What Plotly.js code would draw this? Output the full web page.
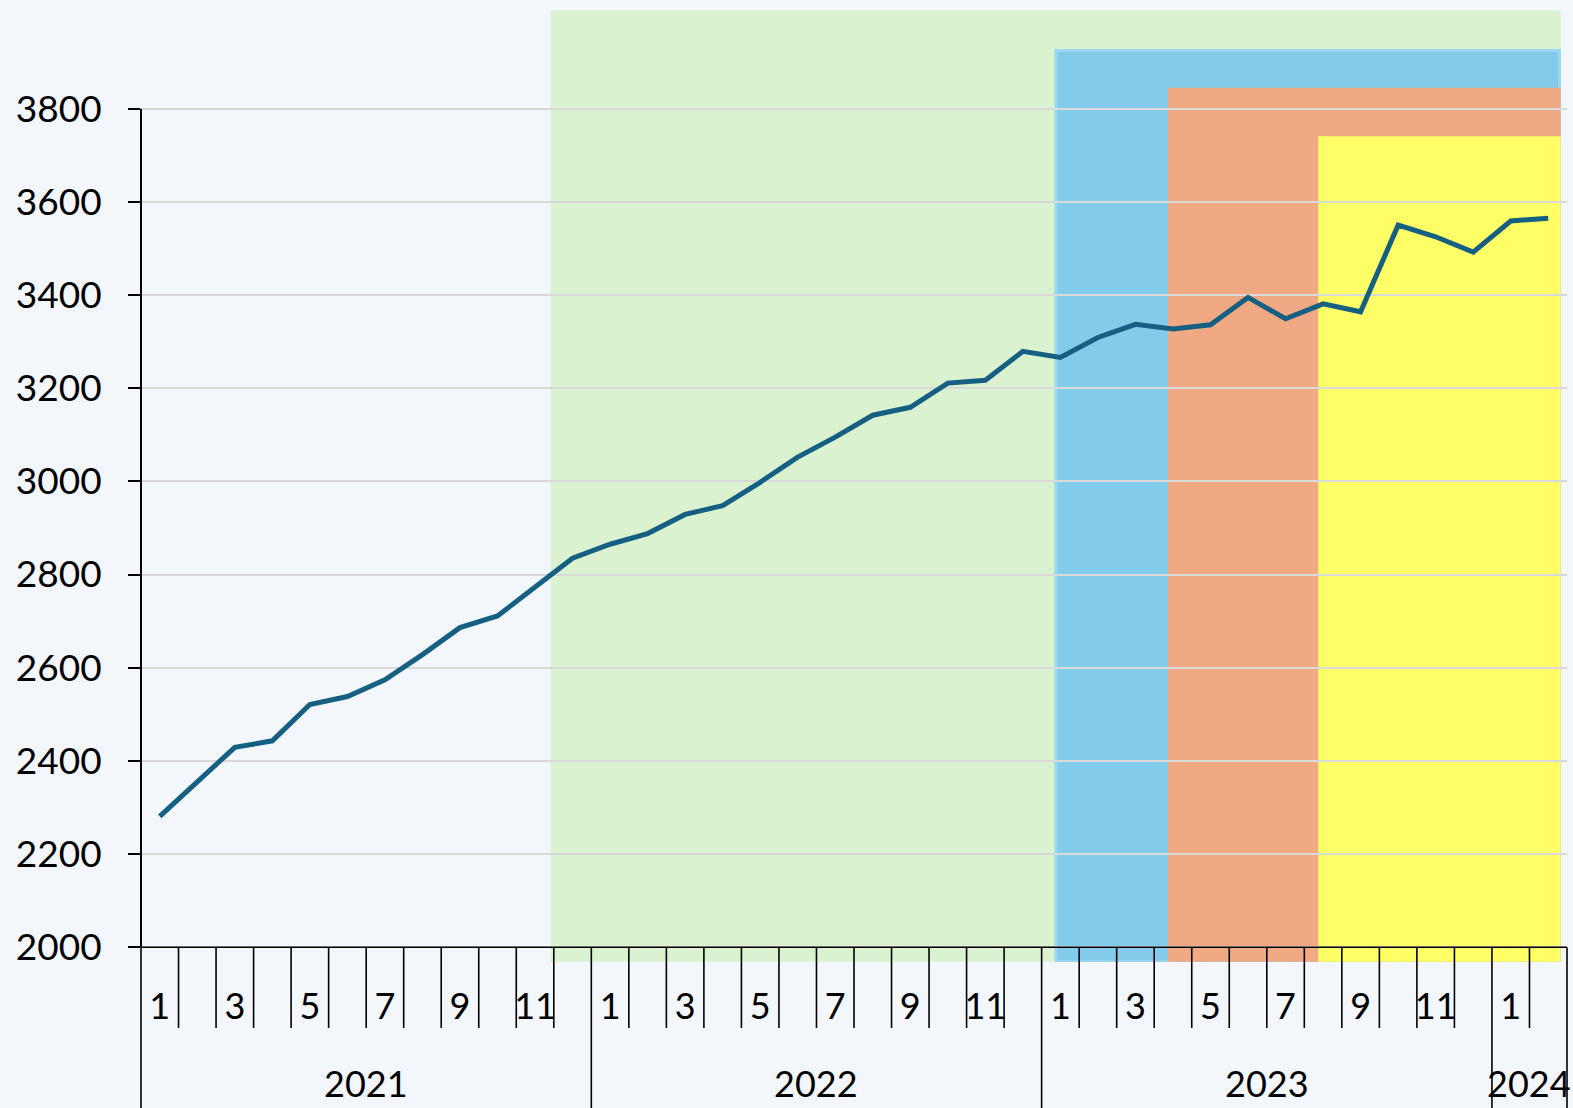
<!DOCTYPE html>
<html>
<head>
<meta charset="utf-8">
<script src="https://cdn.plot.ly/plotly-3.0.1.min.js"></script>
<style>
html,body{margin:0;padding:0;background:#F3F6FB;}
#chart{width:1573px;height:1108px;}
</style>
</head>
<body>
<div id="chart"></div>
<script>
// ---- data ----
const years  = [2021,2021,2021,2021,2021,2021,2021,2021,2021,2021,2021,2021,
                2022,2022,2022,2022,2022,2022,2022,2022,2022,2022,2022,2022,
                2023,2023,2023,2023,2023,2023,2023,2023,2023,2023,2023,2023,
                2024,2024];
const months = [1,2,3,4,5,6,7,8,9,10,11,12,
                1,2,3,4,5,6,7,8,9,10,11,12,
                1,2,3,4,5,6,7,8,9,10,11,12,
                1,2];
const values = [2281,2354,2429,2443,2521,2538,2574,2628,2686,2711,2772,2835,
                2865,2888,2929,2948,2998,3052,3095,3142,3159,3211,3217,3279,
                3266,3309,3337,3327,3336,3395,3349,3381,3364,3550,3525,3492,
                3559,3565];
const yTicks = [2000,2200,2400,2600,2800,3000,3200,3400,3600,3800];

// background periods (category-index positions and value heights)
const bandStart  = [10.42, 23.88, 26.87, 30.87];
const bandEnd    = [37.33, 37.30, 37.33, 37.33];
const bandTop    = [4011, 3925, 3845, 3741];
const bandBottom = 1969;
const bandColors = ['#DAF2D0', '#83CBEB', '#F1A983', '#FFFF66'];
const bandEdge   = ['#DAF2D0', '#9AD7F2', '#F1A983', '#FFFF66'];

// ---- derived ----
const cats = years.map((y, i) => y + '-' + months[i]);
const tickVals = cats.filter((c, i) => months[i] % 2 === 1);
const tickText = months.filter(m => m % 2 === 1).map(String);

const H = 1108, mT = 10, mB = 146;
const plotH = H - mT - mB;
const yRange = [1968.2, 4011.9];
const pix = p => (H - mB - p) / plotH;           // page pixel -> paper fraction
const paperOf = v => (v - yRange[0]) / (yRange[1] - yRange[0]);

const font = {family: 'Lato, "Open Sans", sans-serif', size: 37, color: '#000000'};

const shapes = [];
bandStart.forEach((s, k) => {
  shapes.push({type: 'rect', xref: 'x', yref: 'y', layer: 'below',
    x0: s, x1: bandEnd[k], y0: bandBottom, y1: bandTop[k],
    fillcolor: bandColors[k], line: {color: bandEdge[k], width: k === 1 ? 3 : 0}});
});

const axisY = paperOf(2000);
// y axis line (2000 to 3800)
shapes.push({type: 'line', xref: 'paper', yref: 'y', x0: 0, x1: 0, y0: 2000, y1: 3800,
  line: {color: '#000', width: 2}, layer: 'above'});
// x axis line
shapes.push({type: 'line', xref: 'paper', yref: 'y', x0: 0, x1: 1, y0: 2000, y1: 2000,
  line: {color: '#000', width: 1.6}, layer: 'above'});
// outer left / right category edges down to bottom
[0, 1].forEach(px => shapes.push({type: 'line', xref: 'paper', yref: 'paper',
  x0: px, x1: px, y0: axisY, y1: -0.2, line: {color: '#000', width: 1.6}, layer: 'above'}));
// category separators
for (let i = 1; i < cats.length; i++) {
  const yearBreak = years[i] !== years[i - 1];
  shapes.push({type: 'line', xref: 'x', yref: 'paper', x0: i - 0.5, x1: i - 0.5,
    y0: axisY, y1: yearBreak ? -0.2 : pix(1028),
    line: {color: '#000', width: 1.6}, layer: 'above'});
}

// year labels centred on their groups
const annotations = [];
[...new Set(years)].forEach(y => {
  const first = years.indexOf(y), last = years.lastIndexOf(y);
  annotations.push({xref: 'x', yref: 'paper', x: (first + last) / 2, y: pix(1083),
    xanchor: 'center', yanchor: 'middle', text: String(y), showarrow: false,
    font: Object.assign({}, font, {size: 36})});
});

const trace = {
  type: 'scatter', mode: 'lines', x: cats, y: values,
  line: {color: '#156082', width: 5}, hoverinfo: 'skip', showlegend: false
};

const layout = {
  width: 1573, height: H,
  margin: {l: 141, r: 6, t: mT, b: mB, pad: 0},
  paper_bgcolor: '#F3F6FB', plot_bgcolor: 'rgba(0,0,0,0)',
  showlegend: false,
  font: font,
  xaxis: {type: 'category', categoryorder: 'array', categoryarray: cats,
    range: [-0.5, cats.length - 0.5], showgrid: false, showline: false, zeroline: false,
    ticks: '', tickvals: tickVals, ticktext: tickText, tickangle: 0,
    tickfont: Object.assign({}, font, {size: 36}), ticklabelstandoff: 20, automargin: false},
  yaxis: {range: yRange, tickvals: yTicks, showgrid: true, gridcolor: '#D9D9D9', gridwidth: 2,
    ticks: 'outside', ticklen: 12, tickwidth: 2, tickcolor: '#000', showline: false, zeroline: false,
    tickfont: font, ticklabelstandoff: 19, automargin: false},
  shapes: shapes,
  annotations: annotations
};

Plotly.newPlot('chart', [trace], layout, {staticPlot: true, displayModeBar: false});
</script>
</body>
</html>
